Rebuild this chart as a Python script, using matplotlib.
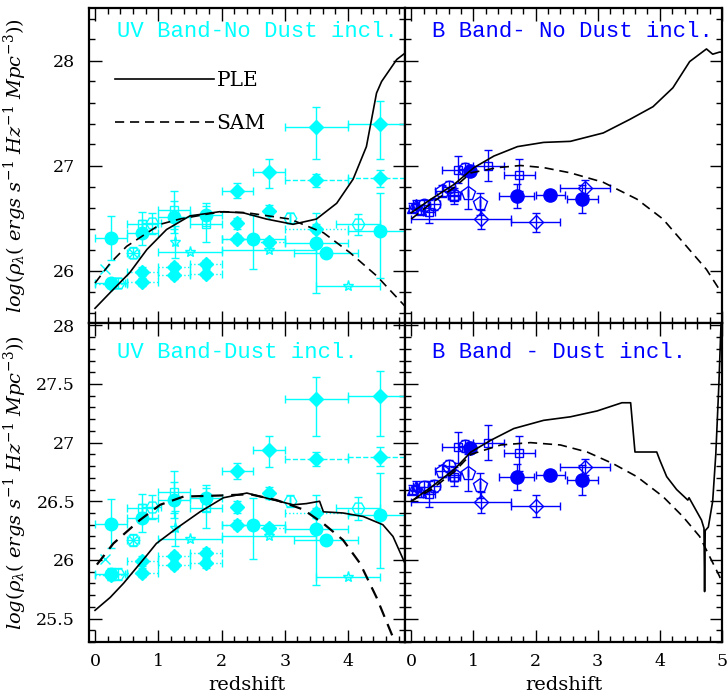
import matplotlib
matplotlib.use('Agg')
import matplotlib.pyplot as plt
from matplotlib.lines import Line2D
from matplotlib.ticker import MultipleLocator, FormatStrFormatter

plt.rcParams['font.family'] = 'DejaVu Serif'
plt.rcParams['mathtext.fontset'] = 'dejavuserif'

UV = '#00FFFF'
BB = '#0000FF'

# ---- model curves (redshift, log rho) ----
ple_uv_z = [0.0, 0.24, 0.55, 0.82, 1.13, 1.5, 1.97, 2.34, 2.71, 3.13, 3.5, 3.82, 4.08, 4.29, 4.45, 4.53, 4.77, 4.9]
ple_uv_v = [25.64, 25.79, 25.98, 26.2, 26.39, 26.52, 26.56, 26.55, 26.49, 26.44, 26.49, 26.64, 26.87, 27.18, 27.69, 27.80, 28.01, 28.07]
sam_uv_z = [0.0, 0.24, 0.5, 1.03, 1.34, 1.8, 2.03, 2.4, 3.08, 3.61, 4.03, 4.45, 4.9]
sam_uv_v = [25.88, 26.07, 26.23, 26.44, 26.49, 26.54, 26.56, 26.55, 26.49, 26.36, 26.17, 25.95, 25.66]

ple_b_z = [0.0, 0.32, 0.69, 1.01, 1.33, 1.71, 2.13, 2.56, 3.09, 3.52, 3.89, 4.21, 4.48, 4.75, 4.85, 4.96, 5.0]
ple_b_v = [26.55, 26.68, 26.82, 26.98, 27.09, 27.18, 27.22, 27.23, 27.31, 27.44, 27.56, 27.74, 27.99, 28.11, 28.06, 28.08, 28.08]
sam_b_z = [0.0, 0.32, 0.69, 0.96, 1.39, 1.76, 2.13, 2.56, 3.09, 3.63, 4.05, 4.43, 4.75, 5.0]
sam_b_v = [26.49, 26.64, 26.79, 26.93, 26.98, 27.0, 26.98, 26.93, 26.84, 26.68, 26.49, 26.23, 26.01, 25.78]

ple_uvd_z = [0.0, 0.24, 0.45, 0.82, 0.97, 1.29, 1.66, 2.03, 2.4, 2.76, 3.13, 3.34, 3.55, 3.61, 3.92, 4.24, 4.55, 4.71, 4.9]
ple_uvd_v = [25.57, 25.68, 25.80, 26.04, 26.14, 26.27, 26.41, 26.53, 26.57, 26.52, 26.47, 26.48, 26.50, 26.41, 26.40, 26.37, 26.30, 26.20, 25.97]
sam_uvd_z = [0.03, 0.29, 0.71, 1.03, 1.4, 2.03, 2.45, 2.87, 3.29, 3.61, 3.92, 4.19, 4.45, 4.71, 4.9]
sam_uvd_v = [25.96, 26.14, 26.34, 26.47, 26.54, 26.55, 26.56, 26.51, 26.43, 26.31, 26.17, 25.97, 25.68, 25.34, 25.05]

ple_bd_z = [0.0, 0.32, 0.69, 0.96, 1.28, 1.65, 2.13, 2.56, 2.99, 3.39, 3.53, 3.60, 3.95, 4.0, 4.11, 4.27, 4.45, 4.47,
            4.67, 4.71, 4.72, 4.73, 4.78, 4.85, 4.9, 4.95, 4.99]
ple_bd_v = [26.50, 26.62, 26.77, 26.92, 27.02, 27.12, 27.19, 27.22, 27.27, 27.34, 27.34, 26.92, 26.92, 26.85, 26.71, 26.60, 26.51, 26.53,
            26.34, 26.27, 25.73, 26.25, 26.28, 26.50, 26.90, 27.5, 28.1]
sam_bd_z = [0.0, 0.32, 0.69, 0.96, 1.44, 1.92, 2.4, 2.83, 3.25, 3.63, 4.05, 4.37, 4.64, 4.96, 5.0]
sam_bd_v = [26.50, 26.60, 26.75, 26.90, 26.98, 27.0, 26.98, 26.92, 26.82, 26.71, 26.54, 26.37, 26.20, 25.86, 25.80]

# ---- UV data ----
uv_d_z = [3.50, 4.50, 2.75, 2.25, 2.75, 2.25]
uv_d_v = [27.37, 27.40, 26.94, 26.76, 26.57, 26.45]
uv_d_dx = [0.50, 0.50, 0.25, 0.25, 0.0, 0.0]
uv_d_dylo = [0.31, 0.34, 0.15, 0.07, 0.05, 0.05]
uv_d_dyhi = [0.19, 0.21, 0.12, 0.07, 0.05, 0.05]

uv_dd_z = [3.50, 4.50]
uv_dd_v = [26.86, 26.88]
uv_dd_dx = [0.5, 0.5]
uv_dd_dy = [0.06, 0.08]

uv_dt_z = [0.25, 0.75, 0.75, 1.25, 1.25, 1.75, 1.75, 2.25, 2.75, 3.50]
uv_dt_v = [25.87, 25.99, 25.89, 26.03, 25.96, 26.06, 25.97, 26.30, 26.27, 26.40]
uv_dt_dx = [0.25, 0.25, 0.25, 0.25, 0.25, 0.25, 0.25, 0.25, 0.25, 0.5]
uv_dt_dy = [0.04, 0.04, 0.04, 0.04, 0.04, 0.04, 0.04, 0.04, 0.04, 0.04]

uv_c_z = [0.25, 0.25, 0.75, 1.25, 1.75, 2.50, 3.50, 3.65, 4.50]
uv_c_v = [26.31, 25.88, 26.36, 26.51, 26.53, 26.30, 26.26, 26.17, 26.38]
uv_c_dx = [0.25, 0.25, 0.25, 0.25, 0.25, 0.50, 0.50, 0.50, 0.50]
uv_c_dylo = [0.21, 0.05, 0.12, 0.15, 0.11, 0.29, 0.47, 0.0, 0.45]
uv_c_dyhi = [0.21, 0.05, 0.12, 0.15, 0.11, 0.23, 0.29, 0.0, 0.36]

uv_s_z = [1.26, 1.50, 2.75, 4.00]
uv_s_v = [26.27, 26.18, 26.20, 25.85]
uv_s_dx = [0.0, 0.50, 0.75, 0.50]
uv_s_dy = [0.15, 0.0, 0.0, 0.0]

uv_h_z = [0.90, 3.08, 4.16, 0.60, 0.37]
uv_h_v = [26.45, 26.50, 26.44, 26.17, 25.88]
uv_h_dx = [0.15, 0.0, 0.35, 0.10, 0.10]
uv_h_dy = [0.10, 0.05, 0.10, 0.05, 0.05]

uv_q_z = [0.75, 1.25, 1.75]
uv_q_v = [26.44, 26.58, 26.44]
uv_q_dx = [0.25, 0.25, 0.25]
uv_q_dy = [0.12, 0.18, 0.17]

uv_x_z = [0.16, 0.60]
uv_x_v = [26.01, 26.17]

# ---- B band data ----
b_c_z = [0.95, 1.70, 2.24, 2.75]
b_c_v = [26.95, 26.71, 26.72, 26.68]
b_c_dx = [0.0, 0.28, 0.24, 0.25]
b_c_dy = [0.04, 0.11, 0.04, 0.13]

b_d_z = [1.12, 2.01, 2.79]
b_d_v = [26.49, 26.46, 26.79]
b_d_dxlo = [1.12, 0.41, 0.39]
b_d_dxhi = [0.48, 0.39, 0.41]
b_d_dy = [0.09, 0.09, 0.07]

b_p_z = [0.49, 0.69, 0.91, 1.11]
b_p_v = [26.76, 26.72, 26.74, 26.64]
b_p_dx = [0.1, 0.1, 0.0, 0.0]
b_p_dylo = [0.05, 0.05, 0.15, 0.11]
b_p_dyhi = [0.05, 0.05, 0.16, 0.10]

b_q_z = [0.29, 0.69, 0.75, 1.24, 1.74]
b_q_v = [26.56, 26.71, 26.96, 27.0, 26.91]
b_q_dx = [0.1, 0.1, 0.25, 0.25, 0.25]
b_q_dy = [0.11, 0.08, 0.13, 0.15, 0.15]

b_o_z = [0.20, 0.37, 0.61, 0.87]
b_o_v = [26.62, 26.63, 26.80, 26.97]
b_o_dx = [0.1, 0.1, 0.1, 0.1]
b_o_dy = [0.05, 0.05, 0.05, 0.05]

b_t_z = [0.02, 0.08, 0.15]
b_t_v = [26.60, 26.63, 26.58]
b_t_dx = [0.05, 0.05, 0.05]
b_t_dy = [0.04, 0.04, 0.04]


def pts(ax, z, v, xerr, yerr, marker, color, ms, filled=True, ls='-'):
    eb = ax.errorbar(z, v, xerr=xerr, yerr=yerr, fmt=marker, color=color, ms=ms,
                     mfc=color if filled else 'none', mec=color, mew=1.0,
                     elinewidth=1.0, capsize=3, capthick=1.0, zorder=2)
    if ls != '-':
        for c in eb[2]:
            c.set_linestyle(ls)
    return eb


def uv_data(ax):
    pts(ax, uv_d_z, uv_d_v, uv_d_dx, [uv_d_dylo, uv_d_dyhi], 'D', UV, 7)
    pts(ax, uv_dd_z, uv_dd_v, uv_dd_dx, uv_dd_dy, 'D', UV, 7, ls='--')
    pts(ax, uv_dt_z, uv_dt_v, uv_dt_dx, uv_dt_dy, 'D', UV, 7, ls=':')
    pts(ax, uv_c_z, uv_c_v, uv_c_dx, [uv_c_dylo, uv_c_dyhi], 'o', UV, 9)
    pts(ax, uv_s_z, uv_s_v, uv_s_dx, uv_s_dy, '*', UV, 8, filled=False)
    pts(ax, uv_h_z, uv_h_v, uv_h_dx, uv_h_dy, 'H', UV, 9, filled=False)
    pts(ax, uv_q_z, uv_q_v, uv_q_dx, uv_q_dy, 's', UV, 6, filled=False)
    ax.plot(uv_x_z, uv_x_v, 'x', color=UV, ms=7, mew=1.0)


def b_data(ax):
    pts(ax, b_c_z, b_c_v, b_c_dx, b_c_dy, 'o', BB, 9.5)
    pts(ax, b_d_z, b_d_v, [b_d_dxlo, b_d_dxhi], b_d_dy, 'D', BB, 7, filled=False)
    pts(ax, b_p_z, b_p_v, b_p_dx, [b_p_dylo, b_p_dyhi], 'p', BB, 10, filled=False)
    pts(ax, b_q_z, b_q_v, b_q_dx, b_q_dy, 's', BB, 6, filled=False)
    pts(ax, b_o_z, b_o_v, b_o_dx, b_o_dy, 'o', BB, 9, filled=False)
    pts(ax, b_t_z, b_t_v, b_t_dx, b_t_dy, '^', BB, 7, filled=False)


fig = plt.figure(figsize=(7.27, 6.94), dpi=100)
xl, wl = 89 / 727, 316 / 727
xr, wr = 405 / 727, 317 / 727
yt, ht = 1 - 323 / 694, 315 / 694
yb, hb = 1 - 642 / 694, 319 / 694

ax_tl = fig.add_axes([xl, yt, wl, ht])
ax_tr = fig.add_axes([xr, yt, wr, ht])
ax_bl = fig.add_axes([xl, yb, wl, hb])
ax_br = fig.add_axes([xr, yb, wr, hb])

dash = (5.5, 3.5)
ax_tl.plot(ple_uv_z, ple_uv_v, color='k', lw=1.2, zorder=3)
ax_tl.plot(sam_uv_z, sam_uv_v, color='k', lw=1.2, ls=(0, dash), zorder=3)
ax_tr.plot(ple_b_z, ple_b_v, color='k', lw=1.2, zorder=3)
ax_tr.plot(sam_b_z, sam_b_v, color='k', lw=1.2, ls=(0, dash), zorder=3)
ax_bl.plot(ple_uvd_z, ple_uvd_v, color='k', lw=1.2, zorder=3)
ax_bl.plot(sam_uvd_z, sam_uvd_v, color='k', lw=1.6, ls=(0, dash), zorder=3)
ax_br.plot(ple_bd_z, ple_bd_v, color='k', lw=1.2, zorder=3)
ax_br.plot(sam_bd_z, sam_bd_v, color='k', lw=1.2, ls=(0, dash), zorder=3)

uv_data(ax_tl)
uv_data(ax_bl)
b_data(ax_tr)
b_data(ax_br)

for ax in (ax_tl, ax_bl):
    ax.set_xlim(-0.095, 4.9)
for ax in (ax_tr, ax_br):
    ax.set_xlim(-0.1, 5.0)
for ax in (ax_tl, ax_tr):
    ax.set_ylim(25.5, 28.5)
    ax.yaxis.set_major_locator(MultipleLocator(1))
    ax.yaxis.set_minor_locator(MultipleLocator(0.2))
for ax in (ax_bl, ax_br):
    ax.set_ylim(25.3, 28.02)
    ax.yaxis.set_major_locator(MultipleLocator(0.5))
    ax.yaxis.set_minor_locator(MultipleLocator(0.1))

for ax in (ax_tl, ax_tr, ax_bl, ax_br):
    ax.xaxis.set_major_locator(MultipleLocator(1))
    ax.xaxis.set_minor_locator(MultipleLocator(0.2))
    ax.yaxis.set_major_formatter(FormatStrFormatter('%g'))
    ax.xaxis.set_major_formatter(FormatStrFormatter('%g'))
    ax.tick_params(which='both', direction='in', top=True, right=True, labelsize=12.5)
    ax.tick_params(which='major', length=9, width=1.0)
    ax.tick_params(which='minor', length=4.5, width=1.0)
    ax.tick_params(axis='x', pad=8)
    ax.tick_params(axis='y', pad=10)
    for s in ax.spines.values():
        s.set_linewidth(1.6)

ax_tl.tick_params(labelbottom=False)
ax_tr.tick_params(labelbottom=False, labelleft=False)
ax_br.tick_params(labelleft=False)
ax_bl.set_xticks([0, 1, 2, 3, 4])

ylab = r'$log(\rho_{\lambda}(\ ergs\ s^{-1}\ Hz^{-1}\ Mpc^{-3}))$'
for ax in (ax_tl, ax_bl):
    ax.set_ylabel(ylab, fontsize=14)
    ax.yaxis.set_label_coords(-0.19, 0.5)
for ax in (ax_bl, ax_br):
    ax.set_xlabel('redshift', fontsize=14, labelpad=4)

tfont = dict(family='Liberation Mono', fontsize=16)
ax_tl.text(0.09, 0.925, 'UV Band-No Dust incl.', color=UV, transform=ax_tl.transAxes, va='center', **tfont)
ax_tr.text(0.085, 0.925, 'B Band- No Dust incl.', color=BB, transform=ax_tr.transAxes, va='center', **tfont)
ax_bl.text(0.09, 0.906, 'UV Band-Dust incl.', color=UV, transform=ax_bl.transAxes, va='center', **tfont)
ax_br.text(0.085, 0.906, 'B Band - Dust incl.', color=BB, transform=ax_br.transAxes, va='center', **tfont)

handles = [Line2D([], [], color='k', lw=1.2), Line2D([], [], color='k', lw=1.2, ls=(0, dash))]
ax_tl.legend(handles, ['PLE', 'SAM'], loc='upper left', bbox_to_anchor=(0.082, 0.80),
             frameon=False, fontsize=14.5, handlelength=4.9, handletextpad=0.15,
             labelspacing=1.2, borderpad=0, borderaxespad=0)

fig.savefig('out.png', dpi=100)
